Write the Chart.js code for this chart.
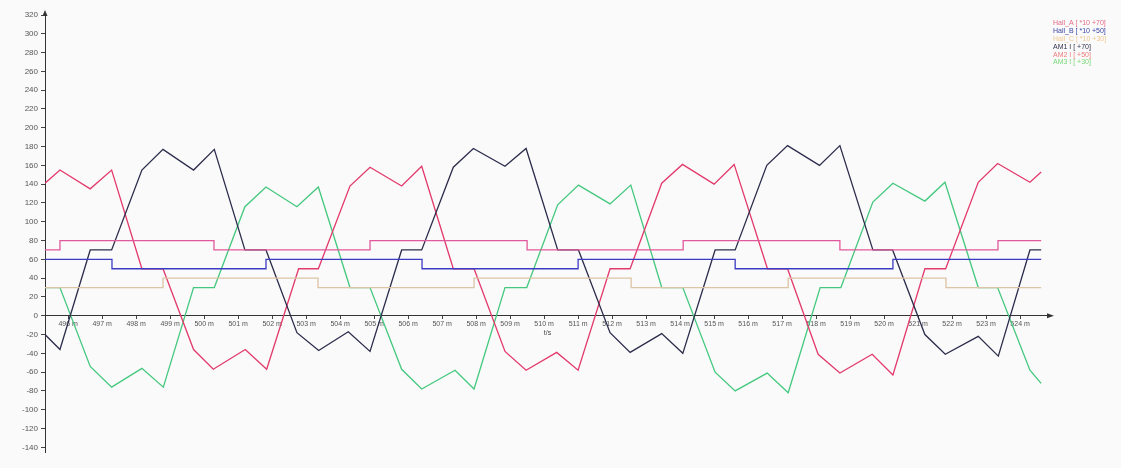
<!DOCTYPE html>
<html>
<head>
<meta charset="utf-8">
<title>Hall / phase currents</title>
<script src="https://cdn.jsdelivr.net/npm/chart.js@4/dist/chart.umd.min.js"></script>
<style>
  html, body { margin: 0; padding: 0; background: #fafafa; }
  #wrap { width: 1121px; height: 468px; }
</style>
</head>
<body>
<div id="wrap"><canvas id="c" width="1121" height="468"></canvas></div>
<script>
// ---- time axis (ms) ----
const xTickValues = [496, 497, 498, 499, 500, 501, 502, 503, 504, 505, 506, 507, 508, 509, 510,
                     511, 512, 513, 514, 515, 516, 517, 518, 519, 520, 521, 522, 523, 524];
const yTickValues = [-140, -120, -100, -80, -60, -40, -20, 0, 20, 40, 60, 80, 100, 120, 140,
                     160, 180, 200, 220, 240, 260, 280, 300, 320];

// ---- Hall sensor states, plotted as state*10 + offset; one entry per edge ----
const hallA_t = [495.32, 495.76, 500.29, 504.88, 509.50, 514.09, 518.70, 523.35, 524.62];
const hallA_v = [70, 80, 70, 80, 70, 80, 70, 80, 80];
const hallB_t = [495.32, 497.29, 501.82, 506.41, 511.00, 515.62, 520.26, 524.62];
const hallB_v = [60, 50, 60, 50, 60, 50, 60, 60];
const hallC_t = [495.32, 498.79, 503.35, 507.94, 512.56, 517.18, 521.82, 524.62];
const hallC_v = [30, 40, 30, 40, 30, 40, 30, 30];

// ---- phase currents, plotted with offsets +70 / +50 / +30 ----
const am1_t = [495.32, 495.76, 496.65, 497.28, 498.17, 498.79, 499.69, 500.30, 501.20, 501.82,
               502.73, 503.37, 504.24, 504.88, 505.81, 506.40, 507.33, 507.92, 508.85, 509.47,
               510.40, 511.01, 511.94, 512.53, 513.46, 514.08, 515.03, 515.62, 516.55, 517.16,
               518.10, 518.70, 519.67, 520.25, 521.20, 521.80, 522.77, 523.36, 524.29, 524.62];
const am1_v = [-20, -36, 70, 70, 155, 177, 155, 177, 70, 70,
               -18, -37, -17, -38, 70, 70, 158, 178, 159, 178,
               70, 70, -18, -39, -19, -40, 70, 70, 160, 181,
               160, 181, 70, 70, -20, -41, -22, -43, 70, 70];

const am2_t = [495.32, 495.76, 496.65, 497.28, 498.17, 498.79, 499.69, 500.27, 501.21, 501.84,
               502.78, 503.36, 504.29, 504.88, 505.81, 506.40, 507.33, 507.94, 508.85, 509.47,
               510.37, 511.00, 511.94, 512.53, 513.46, 514.07, 515.00, 515.59, 516.57, 517.16,
               518.06, 518.70, 519.65, 520.26, 521.20, 521.81, 522.77, 523.34, 524.29, 524.62];
const am2_v = [141, 155, 135, 155, 50, 50, -36, -57, -36, -57,
               50, 50, 138, 158, 138, 159, 50, 50, -38, -58,
               -39, -58, 50, 50, 141, 161, 140, 161, 50, 50,
               -41, -61, -41, -63, 50, 50, 142, 162, 142, 153];

const am3_t = [495.32, 495.76, 496.65, 497.28, 498.17, 498.80, 499.69, 500.30, 501.20, 501.82,
               502.73, 503.36, 504.29, 504.88, 505.81, 506.40, 507.38, 507.94, 508.85, 509.49,
               510.40, 511.01, 511.94, 512.55, 513.46, 514.08, 515.03, 515.62, 516.56, 517.18,
               518.12, 518.73, 519.67, 520.26, 521.20, 521.79, 522.77, 523.34, 524.29, 524.62];
const am3_v = [30, 30, -54, -76, -56, -76, 30, 30, 116, 137,
               116, 137, 30, 30, -57, -78, -58, -78, 30, 30,
               118, 139, 119, 139, 30, 30, -60, -80, -61, -82,
               30, 30, 121, 141, 122, 142, 30, 30, -58, -72];

const seriesNames = ['Hall_A [ *10 +70]', 'Hall_B [ *10 +50]', 'Hall_C [ *10 +30]',
                     'AM1 I [ +70]', 'AM2 I [ +50]', 'AM3 I [ +30]'];
const lineColors  = ['#e2589c', '#3b3bc4', '#dcc4a4', '#2c2c4c', '#e23a6c', '#44c87e'];
const legendColors = ['#e46a86', '#3c44a4', '#f2c890', '#34344e', '#f07a7a', '#78d878'];

const pts = (ts, vs) => ts.map((t, i) => ({ x: t, y: vs[i] }));

// Hall levels hold until the next edge, then jump
const datasets = [
  { label: seriesNames[0], data: pts(hallA_t, hallA_v), stepped: 'before' },
  { label: seriesNames[1], data: pts(hallB_t, hallB_v), stepped: 'before' },
  { label: seriesNames[2], data: pts(hallC_t, hallC_v), stepped: 'before' },
  { label: seriesNames[3], data: pts(am1_t, am1_v) },
  { label: seriesNames[4], data: pts(am2_t, am2_v) },
  { label: seriesNames[5], data: pts(am3_t, am3_v) }
].map((d, i) => Object.assign(d, {
  borderColor: lineColors[i],
  borderWidth: 1.3,
  pointRadius: 0,
  tension: 0,
  fill: false
}));

// axis arrowheads and the colored series list in the upper right corner
const decorations = {
  id: 'decorations',
  afterDraw(chart) {
    const { ctx, chartArea } = chart;
    const yZero = chart.scales.y.getPixelForValue(0);
    ctx.save();
    ctx.fillStyle = '#333';
    // y axis arrow
    ctx.beginPath();
    ctx.moveTo(chartArea.left, chartArea.top - 5);
    ctx.lineTo(chartArea.left - 2.5, chartArea.top + 1);
    ctx.lineTo(chartArea.left + 2.5, chartArea.top + 1);
    ctx.closePath();
    ctx.fill();
    // x axis arrow
    ctx.beginPath();
    ctx.moveTo(chartArea.right + 4, yZero);
    ctx.lineTo(chartArea.right - 3, yZero - 2.5);
    ctx.lineTo(chartArea.right - 3, yZero + 2.5);
    ctx.closePath();
    ctx.fill();
    // series list
    ctx.font = '7px "Liberation Sans", Arial, sans-serif';
    ctx.textBaseline = 'middle';
    ctx.textAlign = 'left';
    seriesNames.forEach((name, i) => {
      ctx.fillStyle = legendColors[i];
      ctx.fillText(name, 1053, 23 + i * 7.9);
    });
    ctx.restore();
  }
};

const background = {
  id: 'background',
  beforeDraw(chart) {
    const { ctx, width, height } = chart;
    ctx.save();
    ctx.fillStyle = '#fafafa';
    ctx.fillRect(0, 0, width, height);
    ctx.restore();
  }
};

new Chart(document.getElementById('c'), {
  type: 'line',
  data: { datasets },
  plugins: [background, decorations],
  options: {
    responsive: false,
    animation: false,
    devicePixelRatio: 1,
    layout: { padding: { left: 0, right: 71, top: 15, bottom: 16 } },
    plugins: { legend: { display: false }, tooltip: { enabled: false } },
    scales: {
      x: {
        type: 'linear',
        min: 495.32,
        max: 524.88,
        position: { y: 0 },
        afterBuildTicks: s => { s.ticks = xTickValues.map(v => ({ value: v })); },
        ticks: {
          callback: v => v + ' m',
          font: { family: '"Liberation Sans", Arial, sans-serif', size: 7 },
          color: '#555',
          padding: 1,
          maxRotation: 0,
          autoSkip: false
        },
        grid: { drawOnChartArea: false, tickLength: 3, color: '#444' },
        border: { color: '#333', width: 1 },
        title: {
          display: true,
          text: 't/s',
          font: { family: '"Liberation Sans", Arial, sans-serif', size: 7 },
          color: '#444',
          padding: { top: 0, bottom: 0 }
        }
      },
      y: {
        type: 'linear',
        min: -145,
        max: 320,
        afterBuildTicks: s => { s.ticks = yTickValues.map(v => ({ value: v })); },
        afterFit: s => { s.width = 45; },
        ticks: {
          font: { family: '"Liberation Sans", Arial, sans-serif', size: 8 },
          color: '#555',
          padding: 3
        },
        grid: { drawOnChartArea: false, tickLength: 4, color: '#444' },
        border: { color: '#333', width: 1 }
      }
    }
  }
});
</script>
</body>
</html>
